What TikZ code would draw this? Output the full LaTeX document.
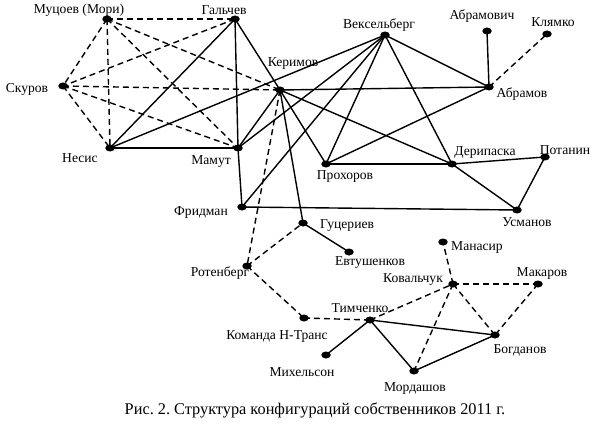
\documentclass[tikz,border=0pt]{standalone}
\usepackage{fontspec}
\setmainfont{Liberation Serif}
\usetikzlibrary{shapes.geometric}
\frenchspacing
\begin{document}
\begin{tikzpicture}[x=1pt,y=-1pt,
  dot/.style={ellipse,fill=black,inner sep=0pt,minimum width=9.5pt,minimum height=7pt},
  lbl/.style={font=\fontsize{13.6}{15}\selectfont,inner sep=0pt},
  solidedge/.style={line width=1.4pt},
  dashedge/.style={line width=1.4pt,dash pattern=on 6pt off 4pt}]
\useasboundingbox (0,0) rectangle (595,436);
% dots
\node[dot] (mur) at (107,19) {};
\node[dot] (gal) at (235,19) {};
\node[dot] (sku) at (63,86) {};
\node[dot] (nes) at (110,148) {};
\node[dot] (mam) at (238,148) {};
\node[dot] (ker) at (280,90) {};
\node[dot] (vek) at (385,35) {};
\node[dot] (abrm) at (487,31) {};
\node[dot] (kly) at (547,34) {};
\node[dot] (abr) at (489,87) {};
\node[dot] (pro) at (326,164) {};
\node[dot] (der) at (452,164) {};
\node[dot] (pot) at (545,157) {};
\node[dot] (usm) at (517,210) {};
\node[dot] (fri) at (242,207) {};
\node[dot] (guc) at (303,223) {};
\node[dot] (evt) at (349,252) {};
\node[dot] (rot) at (247,266) {};
\node[dot] (nt) at (304,318) {};
\node[dot] (tim) at (370,320) {};
\node[dot] (mih) at (326,355) {};
\node[dot] (mor) at (414,371) {};
\node[dot] (bog) at (495,335) {};
\node[dot] (kov) at (453,284) {};
\node[dot] (man) at (443,242) {};
\node[dot] (mak) at (538,284) {};
% labels
\node[lbl] (lmur) at (79,10) {Муцоев (Мори)};
\node[lbl] (lgal) at (224,10) {Гальчев};
\node[lbl] (lsku) at (27,89) {Скуров};
\node[lbl] (lnes) at (80,158) {Несис};
\node[lbl] (lmam) at (211,162) {Мамут};
\node[lbl] (lker) at (293,63) {Керимов};
\node[lbl] (lvek) at (379,25) {Вексельберг};
\node[lbl] (labrm) at (482,16) {Абрамович};
\node[lbl] (lkly) at (553,22) {Клямко};
\node[lbl] (labr) at (522,94) {Абрамов};
\node[lbl] (lpro) at (345,176) {Прохоров};
\node[lbl] (lder) at (485,152) {Дерипаска};
\node[lbl] (lpot) at (565,150) {Потанин};
\node[lbl] (lusm) at (527,222) {Усманов};
\node[lbl] (lfri) at (201,212) {Фридман};
\node[lbl] (lguc) at (347,226) {Гуцериев};
\node[lbl] (levt) at (370,263) {Евтушенков};
\node[lbl] (lrot) at (220,273) {Ротенберг};
\node[lbl] (lnt) at (277,336) {Команда Н-Транс};
\node[lbl] (ltim) at (360,308) {Тимченко};
\node[lbl] (lmih) at (302,372) {Михельсон};
\node[lbl] (lmor) at (415,388) {Мордашов};
\node[lbl] (lbog) at (520,350) {Богданов};
\node[lbl] (lkov) at (413,280) {Ковальчук};
\node[lbl] (lman) at (477,247) {Манасир};
\node[lbl] (lmak) at (542,273) {Макаров};
\node[font=\fontsize{16.3}{18}\selectfont,inner sep=0pt] (cap) at (315,410) {Рис. 2. Структура конфигураций собственников 2011 г.};
% dashed edges
\foreach \a/\b in {mur/gal,mur/sku,mur/nes,mur/ker,mur/mam,gal/sku,sku/ker,sku/nes,sku/mam,
  ker/rot,rot/guc,rot/nt,nt/tim,tim/kov,kov/man,kov/mak,kov/bog,kov/mor,mak/bog,abr/kly}
  \draw[dashedge] (\a.center) -- (\b.center);
% solid edges
\foreach \a/\b in {gal/nes,gal/mam,gal/ker,nes/mam,nes/vek,mam/ker,mam/vek,mam/fri,fri/vek,
  ker/abr,ker/pro,ker/der,ker/guc,vek/pro,vek/der,vek/abr,abr/pro,abr/abrm,pro/der,der/pot,
  pot/usm,der/usm,fri/usm,guc/evt,tim/mih,tim/mor,tim/bog,mor/bog}
  \draw[solidedge] (\a.center) -- (\b.center);
\end{tikzpicture}
\end{document}
